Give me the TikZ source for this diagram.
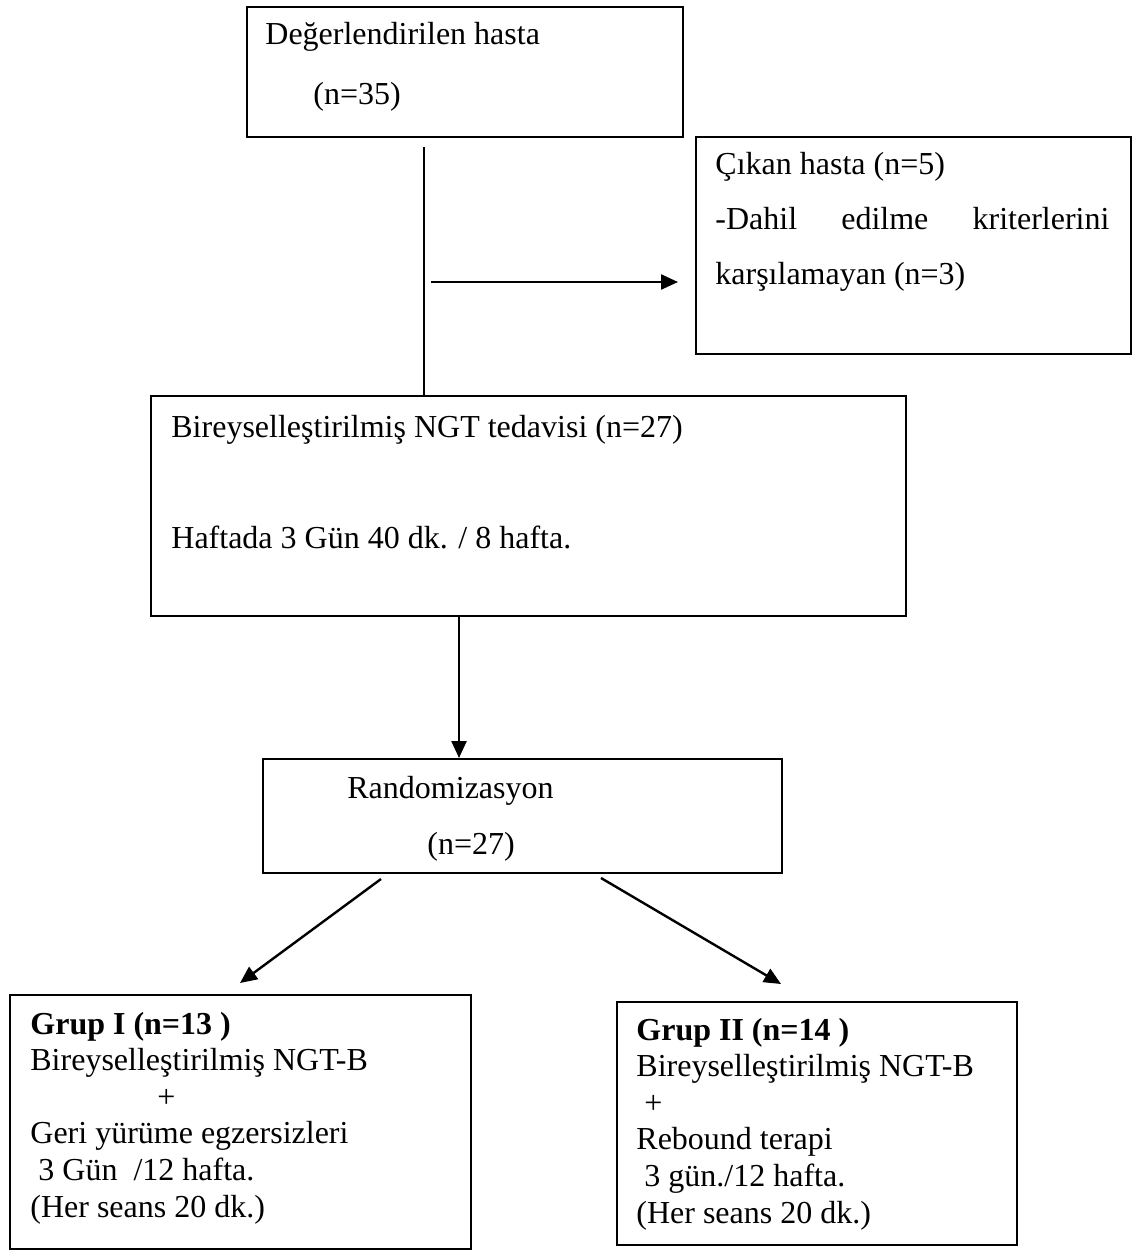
\documentclass[tikz,border=0pt]{standalone}
\usepackage{fontspec}
\setmainfont{Liberation Serif}
\usetikzlibrary{arrows.meta}

\tikzset{
  box/.style={draw, line width=1pt, rectangle, anchor=north west, inner sep=0pt},
  txt/.style={anchor=base west, inner sep=0pt, align=left, font=\fontsize{16}{18.3}\selectfont},
  link/.style={line width=1.2pt},
  arrow/.style={link, -{Triangle[length=8.5pt, width=7.5pt]}},
}

\begin{document}
\begin{tikzpicture}[x=0.5pt, y=-0.5pt]
    \useasboundingbox (0,0) rectangle (1143,1251);

    % boxes
    \node at (246, 6) (deger) [box, minimum width=218pt, minimum height=65pt] {};
    \node at (695, 136) (cikan) [box, minimum width=217.5pt, minimum height=108.5pt] {};
    \node at (150, 395) (ngt) [box, minimum width=377.5pt, minimum height=110pt] {};
    \node at (262, 758) (random) [box, minimum width=259.5pt, minimum height=57pt] {};
    \node at (9, 994) (grupA) [box, minimum width=230.5pt, minimum height=127pt] {};
    \node at (616, 1001) (grupB) [box, minimum width=200pt, minimum height=121.5pt] {};

    % texts (base west = baseline of the last line)
    \node at (265, 45) (degerA) [txt] {Değerlendirilen hasta};
    \node at (313, 105) (degerB) [txt] {(n=35)};
    \node at (715, 175) (cikanA) [txt] {Çıkan hasta (n=5)};
    \node at (715, 230) (cikanB) [txt] {\makebox[197pt][l]{-Dahil\hfill edilme\hfill kriterlerini}};
    \node at (715, 285) (cikanC) [txt] {karşılamayan (n=3)};
    \node at (171, 437) (ngtA) [txt] {Bireyselleştirilmiş NGT tedavisi (n=27)};
    \node at (171, 548) (ngtB) [txt] {Haftada 3 Gün 40 dk. / 8 hafta.};
    \node at (347, 798) (randomA) [txt] {Randomizasyon};
    \node at (427, 854) (randomB) [txt] {(n=27)};
    \node at (30, 1217) (grupAtext) [txt] {\textbf{Grup I (n=13 )}\\
        Bireyselleştirilmiş NGT-B\\
        \hspace*{63.5pt}+\\
        Geri yürüme egzersizleri\\
        \hspace*{4pt}3 Gün\hspace*{8pt}/12 hafta.\\
        (Her seans 20 dk.)};
    \node at (636, 1223) (grupBtext) [txt] {\textbf{Grup II (n=14 )}\\
        Bireyselleştirilmiş NGT-B\\
        \hspace*{4pt}+\\
        Rebound terapi\\
        \hspace*{4pt}3 gün./12 hafta.\\
        (Her seans 20 dk.)};

    % connectors
    \coordinate (split) at (424, 282);
    \coordinate (drop) at (459, 0);
    \coordinate (leftfrom) at (381, 879);
    \coordinate (leftto) at (240, 983);
    \coordinate (rightfrom) at (601, 878);
    \coordinate (rightto) at (781, 984);

    \draw[link] ([yshift=-4.5pt]deger.south -| split) -- (ngt.north -| split);
    \draw[arrow] ([xshift=3.5pt]split) -- ([xshift=-8.5pt]split -| cikan.west);
    \draw[arrow] (ngt.south -| drop) -- (random.north -| drop);
    \draw[arrow] (leftfrom) -- (leftto);
    \draw[arrow] (rightfrom) -- (rightto);
\end{tikzpicture}
\end{document}
